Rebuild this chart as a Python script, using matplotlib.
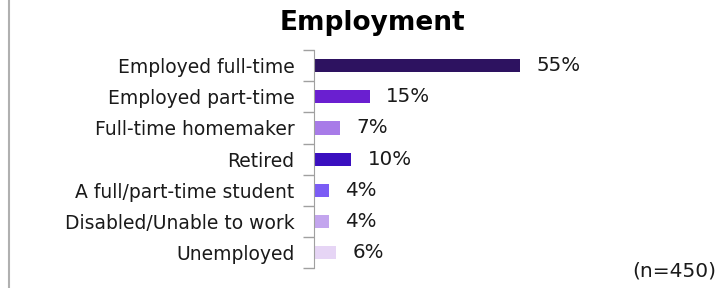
import matplotlib.pyplot as plt
from matplotlib.lines import Line2D

categories = ['Employed full-time', 'Employed part-time', 'Full-time homemaker', 'Retired',
              'A full/part-time student', 'Disabled/Unable to work', 'Unemployed']
values = [55, 15, 7, 10, 4, 4, 6]
colors = ['#2d1260', '#6a1fd0', '#a87be8', '#3a0fbf', '#7b5cf5', '#c3a5ee', '#e6d5f5']

plt.rcParams['font.family'] = ['DejaVu Sans']

fig = plt.figure(figsize=(7.2, 2.88), dpi=100)
ax = fig.add_axes([0.436, 0.069, 0.534, 0.757])

y = list(range(len(categories)))
ax.barh(y, values, height=0.42, color=colors)
ax.set_ylim(len(categories) - 0.5, -0.5)
ax.set_xlim(0, 102.5)

for i, v in enumerate(values):
    ax.text(v + 4.3, i, f'{v}%', va='center', ha='left', fontsize=14.3, color='#1a1a1a')

ax.set_yticks(y)
ax.set_yticklabels(categories, fontsize=13.5, color='#1a1a1a')
ax.tick_params(axis='y', which='major', length=0, pad=14)
ax.set_yticks([i - 0.5 for i in range(len(categories) + 1)], minor=True)
ax.tick_params(axis='y', which='minor', length=8, width=1, color='#a0a0a0')
ax.set_xticks([])
for s in ['top', 'right', 'bottom']:
    ax.spines[s].set_visible(False)
ax.spines['left'].set_color('#a0a0a0')

fig.text(0.517, 0.92, 'Employment', ha='center', va='center', fontsize=19, fontweight='heavy')
fig.text(0.995, 0.06, '(n=450)', ha='right', va='center', fontsize=14.5, color='#1a1a1a')
fig.add_artist(Line2D([0.0125, 0.0125], [0, 1], color='#b0b0b0', lw=1.5, transform=fig.transFigure))

fig.savefig('out.png', dpi=100)
